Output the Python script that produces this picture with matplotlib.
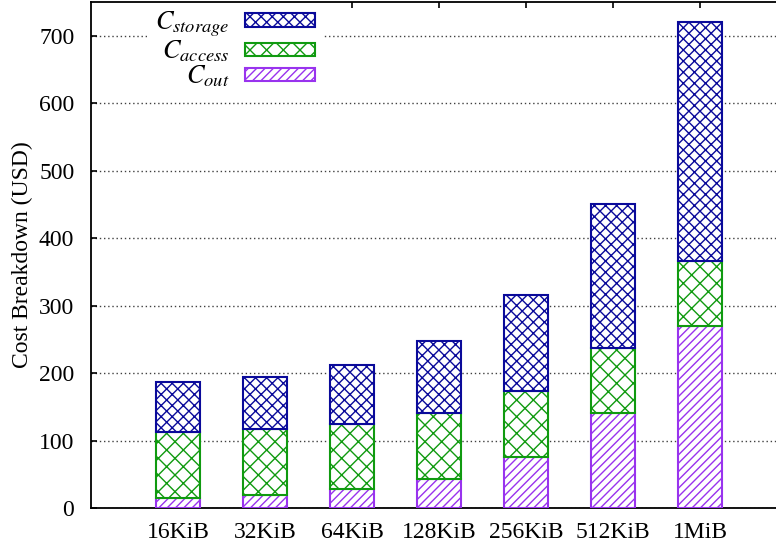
import numpy as np
import matplotlib
matplotlib.use("Agg")
import matplotlib.pyplot as plt

# values
sizes = ["16KiB", "32KiB", "64KiB", "128KiB", "256KiB", "512KiB", "1MiB"]
c_out = [15, 19, 28, 43, 76, 141, 270]
c_access = [98, 98, 97, 98, 98, 96, 96]
c_storage = [74, 77, 87, 107, 141, 214, 355]
y_ticks = [0, 100, 200, 300, 400, 500, 600, 700]

plt.rcParams['font.family'] = ['Liberation Serif', 'DejaVu Serif']
plt.rcParams['mathtext.fontset'] = 'stix'
plt.rcParams['hatch.linewidth'] = 1.0

fig = plt.figure(figsize=(7.76, 5.5), dpi=100)
ax = fig.add_axes([91 / 776, 42 / 550, 696 / 776, 506 / 550])

x = np.arange(len(sizes))
out = np.array(c_out)
acc = np.array(c_access)
sto = np.array(c_storage)
w = 0.5

b_out = ax.bar(x, out, w, color='white', edgecolor='#9933ee', hatch='////',
               linewidth=1.5, zorder=3, label='$C_{out}$')
b_acc = ax.bar(x, acc, w, bottom=out, color='white', edgecolor='#109a10', hatch='xx',
               linewidth=1.5, zorder=3, label='$C_{access}$')
b_sto = ax.bar(x, sto, w, bottom=out + acc, color='white', edgecolor='#0a0a9a', hatch='xxx',
               linewidth=1.5, zorder=3, label='$C_{storage}$')

ax.set_xlim(-1, 7)
ax.set_ylim(0, 750)
ax.set_xticks(x)
ax.set_xticklabels(sizes)
ax.set_yticks(y_ticks)
ax.tick_params(axis='both', direction='in', length=4.5, width=1.2, labelsize=17)
ax.tick_params(axis='y', pad=12)
ax.tick_params(axis='x', pad=10, top=True)
ax.set_ylabel('Cost Breakdown (USD)', fontsize=17, labelpad=4)
ax.yaxis.grid(True, color='0.25', linestyle=(0, (1, 2)), linewidth=1.0, zorder=0)
ax.set_axisbelow(True)
for s in ax.spines.values():
    s.set_linewidth(1.3)

leg = ax.legend(handles=[b_sto, b_acc, b_out], loc='upper right',
                bbox_to_anchor=(0.333, 1.0), markerfirst=False, fontsize=19,
                handlelength=2.65, handleheight=0.42, labelspacing=-0.02,
                handletextpad=0.6, borderaxespad=0.0, borderpad=0.3, frameon=True)
leg.get_frame().set_edgecolor('none')
leg.get_frame().set_facecolor('white')
leg.get_frame().set_alpha(1)
leg.set_zorder(2.4)
for t in leg.get_texts():
    t.set_ha('right')

fig.savefig('out.png', dpi=100)
